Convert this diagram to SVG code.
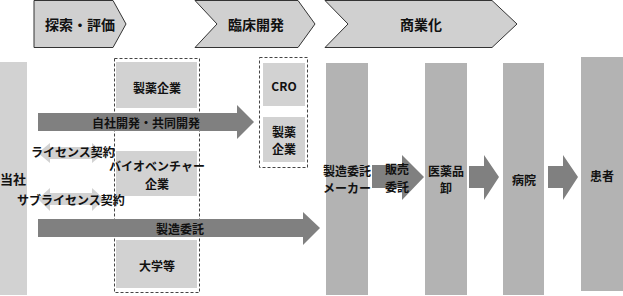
<svg xmlns="http://www.w3.org/2000/svg" width="623" height="296" viewBox="0 0 623 296">
<style>
.chev{fill:#d0d0d0;stroke:#333;stroke-width:1}
.lt{fill:#d2d2d2}
.bar{fill:#b3b3b3}
.dash{fill:none;stroke:#444;stroke-width:1;stroke-dasharray:3 2}
.arr{fill:#808080}
.dbl{fill:#d2d2d2}
text{font-family:"Noto Sans CJK JP","Noto Sans",sans-serif;font-weight:bold;fill:#111;text-anchor:middle;dominant-baseline:central}
.h{font-size:14px}
.t{font-size:12px}
</style>
<g id="phase-explore"><polygon class="chev" points="34,0.5 113,0.5 126,24 113,47.5 34,47.5"/><text class="h" x="80" y="24">探索・評価</text></g>
<g id="phase-clinical"><polygon class="chev" points="195,0.5 298,0.5 315,24 298,47.5 195,47.5 217,24"/><text class="h" x="256" y="24">臨床開発</text></g>
<g id="phase-commercial"><polygon class="chev" points="325,0.5 492,0.5 517,24 492,47.5 325,47.5 348,24"/><text class="h" x="421" y="24">商業化</text></g>

<g id="company"><rect class="lt" x="0" y="62" width="27" height="233"/><text class="t" style="font-size:13px" x="13" y="178">当社</text></g>

<g id="group1"><rect class="dash" x="114.5" y="58.5" width="85" height="234"/></g>
<g id="pharma1"><rect class="lt" x="116" y="62" width="81" height="46"/><text class="t" x="157" y="87">製薬企業</text></g>
<g id="bio"><rect class="lt" x="116" y="151" width="81" height="45"/><text class="t" x="157" y="165">バイオベンチャー</text><text class="t" x="157" y="183">企業</text></g>
<g id="univ"><rect class="lt" x="116" y="240" width="81" height="48"/><text class="t" x="157" y="265">大学等</text></g>

<g id="group2"><rect class="dash" x="259.5" y="57.5" width="48" height="110"/></g>
<g id="cro"><rect class="lt" x="263" y="63" width="42" height="43"/><text class="t" x="284" y="85">CRO</text></g>
<g id="pharma2"><rect class="lt" x="263" y="117" width="42" height="45"/><text class="t" x="284" y="131">製薬</text><text class="t" x="284" y="148">企業</text></g>

<g id="cmo"><rect class="bar" x="326" y="63" width="42" height="232"/><text class="t" x="347" y="170">製造委託</text><text class="t" x="347" y="187">メーカー</text></g>
<g id="wholesale"><rect class="bar" x="425" y="63" width="42" height="232"/><text class="t" x="446" y="170">医薬品</text><text class="t" x="446" y="187">卸</text></g>
<g id="hospital"><rect class="bar" x="503" y="63" width="41" height="232"/><text class="t" x="524" y="179">病院</text></g>
<g id="patient"><rect class="bar" x="581" y="57" width="42" height="234"/><text class="t" x="602" y="175">患者</text></g>

<g id="connectors">
<polygon class="arr" points="38,113 237,113 237,105 254,122 237,139 237,131 38,131"/>
<text class="t" x="146" y="122">自社開発・共同開発</text>
<polygon class="arr" points="38,219 303,219 303,212 320,228 303,245 303,237 38,237"/>
<text class="t" x="180" y="228">製造委託</text>
<polygon class="dbl" points="38,153 50,143 50,147 92,147 92,143 104,153 92,163 92,159 50,159 50,163"/>
<text class="t" x="73" y="151">ライセンス契約</text>
<polygon class="dbl" points="38,199 50,188 50,193 92,193 92,188 104,199 92,211 92,205 50,205 50,211"/>
<text class="t" x="71" y="199">サブライセンス契約</text>
<polygon class="arr" points="372,165 402,165 402,155 424,177 402,200 402,188 372,188"/>
<text class="t" x="397" y="168">販売</text>
<text class="t" x="397" y="186">委託</text>
<polygon class="arr" points="469,166 484,166 484,155 499,177 484,200 484,188 469,188"/>
<polygon class="arr" points="548,166 563,166 563,155 578,177 563,200 563,188 548,188"/>
</g>
</svg>
